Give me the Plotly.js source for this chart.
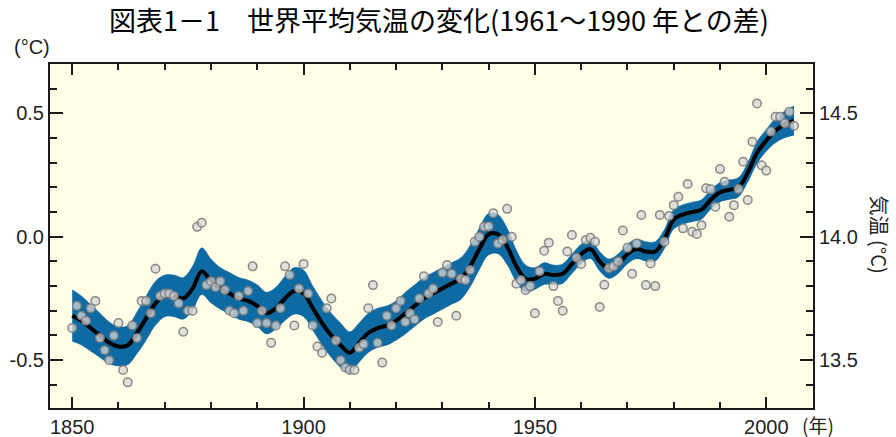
<!DOCTYPE html>
<html>
<head>
<meta charset="utf-8">
<script src="https://cdn.plot.ly/plotly-3.0.1.min.js"></script>
<style>
html,body{margin:0;padding:0;background:#fff;}
#wrap{position:relative;width:896px;height:437px;}
#chart,#frame{position:absolute;left:0;top:0;width:896px;height:437px;}
#frame{pointer-events:none;}
</style>
</head>
<body>
<div id="wrap"><div id="chart"></div><div id="frame"></div></div>
<script>
// Annual global mean temperature anomaly (vs 1961-1990)
const years = [1850,1851,1852,1853,1854,1855,1856,1857,1858,1859,1860,1861,1862,1863,1864,1865,1866,1867,1868,1869,
1870,1871,1872,1873,1874,1875,1876,1877,1878,1879,1880,1881,1882,1883,1884,1885,1886,1887,1888,1889,
1890,1891,1892,1893,1894,1895,1896,1897,1898,1899,1900,1901,1902,1903,1904,1905,1906,1907,1908,1909,
1910,1911,1912,1913,1914,1915,1916,1917,1918,1919,1920,1921,1922,1923,1924,1925,1926,1927,1928,1929,
1930,1931,1932,1933,1934,1935,1936,1937,1938,1939,1940,1941,1942,1943,1944,1945,1946,1947,1948,1949,
1950,1951,1952,1953,1954,1955,1956,1957,1958,1959,1960,1961,1962,1963,1964,1965,1966,1967,1968,1969,
1970,1971,1972,1973,1974,1975,1976,1977,1978,1979,1980,1981,1982,1983,1984,1985,1986,1987,1988,1989,
1990,1991,1992,1993,1994,1995,1996,1997,1998,1999,2000,2001,2002,2003,2004,2005,2006];
const annual = [-0.37,-0.28,-0.32,-0.34,-0.29,-0.26,-0.41,-0.46,-0.50,-0.40,-0.35,-0.54,-0.59,-0.36,-0.41,-0.26,-0.26,-0.31,-0.13,-0.24,
-0.23,-0.23,-0.24,-0.27,-0.385,-0.30,-0.30,0.04,0.057,-0.196,-0.18,-0.205,-0.18,-0.216,-0.30,-0.31,-0.24,-0.30,-0.22,-0.12,
-0.35,-0.30,-0.35,-0.43,-0.36,-0.29,-0.12,-0.155,-0.36,-0.21,-0.11,-0.23,-0.36,-0.445,-0.47,-0.29,-0.25,-0.42,-0.50,-0.53,
-0.54,-0.54,-0.45,-0.435,-0.29,-0.196,-0.43,-0.51,-0.32,-0.36,-0.29,-0.26,-0.345,-0.31,-0.335,-0.25,-0.16,-0.23,-0.21,-0.345,
-0.146,-0.115,-0.15,-0.32,-0.17,-0.175,-0.135,-0.02,0.0,0.04,0.043,0.095,-0.027,-0.013,0.113,0.0,-0.19,-0.175,-0.216,-0.20,
-0.31,-0.14,-0.057,-0.024,-0.20,-0.26,-0.30,-0.06,0.007,-0.085,-0.11,-0.013,-0.004,-0.02,-0.285,-0.195,-0.128,-0.12,-0.10,0.025,
-0.045,-0.15,-0.027,0.088,-0.196,-0.108,-0.20,0.088,-0.02,0.084,0.128,0.162,0.034,0.214,0.02,0.011,0.047,0.196,0.192,0.122,
0.274,0.223,0.081,0.128,0.193,0.304,0.149,0.385,0.54,0.29,0.268,0.426,0.486,0.486,0.46,0.507,0.45];

// Smoothed decadal curve and its uncertainty half-width
const smoothYears = [1850,1852,1854,1856,1858,1860,1862,1864,1866,1868,1870,1872,1874,1876,1878,1880,1882,1884,1886,1888,
1890,1892,1894,1896,1898,1900,1902,1904,1906,1908,1910,1912,1914,1916,1918,1920,1922,1924,1926,1928,
1930,1932,1934,1936,1938,1940,1942,1944,1946,1948,1950,1952,1954,1956,1958,1960,1962,1964,1966,1968,
1970,1972,1974,1976,1978,1980,1982,1984,1986,1988,1990,1992,1994,1996,1998,2000,2002,2004,2006];
const smooth = [-0.32,-0.34,-0.37,-0.40,-0.43,-0.445,-0.44,-0.39,-0.33,-0.27,-0.24,-0.24,-0.25,-0.21,-0.14,-0.18,-0.21,-0.23,-0.25,-0.26,
-0.28,-0.31,-0.29,-0.25,-0.22,-0.23,-0.29,-0.35,-0.40,-0.44,-0.47,-0.43,-0.39,-0.37,-0.36,-0.34,-0.31,-0.28,-0.25,-0.23,
-0.21,-0.19,-0.17,-0.12,-0.05,0.01,0.01,-0.04,-0.12,-0.17,-0.17,-0.15,-0.155,-0.15,-0.11,-0.07,-0.05,-0.10,-0.13,-0.11,
-0.07,-0.05,-0.06,-0.06,-0.01,0.07,0.09,0.10,0.11,0.15,0.18,0.19,0.20,0.26,0.34,0.39,0.43,0.455,0.47];
const halfWidth = [0.105,0.10,0.095,0.09,0.085,0.08,0.08,0.085,0.09,0.09,0.085,0.085,0.085,0.09,0.095,0.09,0.085,0.085,0.085,0.085,
0.085,0.085,0.085,0.09,0.095,0.095,0.09,0.09,0.09,0.09,0.085,0.08,0.08,0.08,0.08,0.08,0.085,0.085,0.085,0.085,
0.085,0.085,0.085,0.085,0.085,0.085,0.08,0.075,0.065,0.055,0.045,0.045,0.04,0.04,0.04,0.04,0.04,0.04,0.04,0.04,
0.04,0.04,0.04,0.04,0.04,0.04,0.04,0.04,0.04,0.04,0.04,0.04,0.04,0.04,0.045,0.045,0.05,0.055,0.06];

const xTickVals = [1850,1900,1950,2000];
const xTickText = ['1850','1900','1950','2000'];
const yTickVals = [-0.5,0,0.5];
const yTickText = ['-0.5','0.0','0.5'];
const y2TickVals = [13.5,14.0,14.5];
const y2TickText = ['13.5','14.0','14.5'];
const y2Offset = 14.0;

const bandLow = smooth.map((v,i)=>v-halfWidth[i]);
const bandHigh = smooth.map((v,i)=>v+halfWidth[i]);

const blue = '#0e6aa3';
const ink = '#1a1a1a';
const xRange = [1845.2,2010.1];
const yRange = [-0.694,0.70];
const margin = {l:50, r:83, t:64, b:29};
const cfg = {displayModeBar:false, staticPlot:true};

// ---- layer 1: data, background, title and side texts ----
const dataTraces = [
  {x: smoothYears, y: bandLow, mode:'lines', line:{width:0, shape:'spline', color:blue}, hoverinfo:'skip', showlegend:false},
  {x: smoothYears, y: bandHigh, mode:'lines', fill:'tonexty', fillcolor:blue, line:{width:0.5, shape:'spline', color:blue}, hoverinfo:'skip', showlegend:false},
  {x: smoothYears, y: smooth, mode:'lines', line:{width:4, shape:'spline', color:'#000'}, showlegend:false},
  {x: years, y: annual, mode:'markers', marker:{size:8.5, color:'rgba(215,215,215,0.75)', line:{color:'rgba(125,125,125,0.9)', width:1.5}}, showlegend:false}
];
const dataLayout = {
  width:896, height:437, margin:margin,
  paper_bgcolor:'#ffffff', plot_bgcolor:'#fffde6', showlegend:false,
  title:{text:'図表1－1　世界平均気温の変化(1961～1990 年との差)', x:0.49, xanchor:'center', y:0.95, yanchor:'middle', yref:'container',
    font:{family:'Noto Sans CJK JP', size:27, color:'#000'}},
  xaxis:{range:xRange, showticklabels:false, ticks:'', showline:false, showgrid:false, zeroline:false},
  yaxis:{range:yRange, showticklabels:false, ticks:'', showline:false, showgrid:false, zeroline:false},
  annotations:[
    {text:'(°C)', xref:'paper', yref:'paper', x:-0.024, y:1.049, showarrow:false, xanchor:'center', yanchor:'middle',
      font:{family:'Liberation Sans', size:20, color:'#222'}},
    {text:'(年)', xref:'paper', yref:'paper', x:1.006, y:-0.048, showarrow:false, xanchor:'center', yanchor:'middle',
      font:{family:'Noto Sans CJK JP', size:19, color:'#222'}},
    {text:'気温 (°C)', xref:'paper', yref:'paper', x:1.087, y:0.503, showarrow:false, xanchor:'center', yanchor:'middle', textangle:90,
      font:{family:'Noto Sans CJK JP', size:20, color:'#222'}}
  ]
};

// ---- layer 2: frame, ticks and tick labels (transparent, drawn on top) ----
const tickFont = {family:'Liberation Sans', size:20, color:'#222'};
const frameTraces = [
  {x:[null], y:[null], mode:'markers', showlegend:false},
  {x:[null], y:[null], yaxis:'y2', mode:'markers', showlegend:false},
  {x:[null], y:[null], xaxis:'x2', mode:'markers', showlegend:false}
];
const frameLayout = {
  width:896, height:437, margin:margin,
  paper_bgcolor:'rgba(0,0,0,0)', plot_bgcolor:'rgba(0,0,0,0)', showlegend:false,
  xaxis:{range:xRange, tickvals:xTickVals, ticktext:xTickText, ticks:'inside', ticklen:11, tickwidth:2, tickcolor:ink,
    showline:true, linewidth:2, linecolor:ink, showgrid:false, zeroline:false, tickfont:tickFont,
    minor:{dtick:10, tick0:1850, ticks:'inside', ticklen:6, tickwidth:2, tickcolor:ink}},
  xaxis2:{overlaying:'x', anchor:'y', side:'top', range:xRange, tickvals:xTickVals, showticklabels:false, ticks:'inside', ticklen:11, tickwidth:2, tickcolor:ink,
    showline:true, linewidth:2, linecolor:ink, showgrid:false, zeroline:false,
    minor:{dtick:10, tick0:1850, ticks:'inside', ticklen:6, tickwidth:2, tickcolor:ink}},
  yaxis:{range:yRange, tickvals:yTickVals, ticktext:yTickText, ticks:'inside', ticklen:13, tickwidth:2, tickcolor:ink,
    showline:true, linewidth:2, linecolor:ink, showgrid:false, zeroline:false, tickfont:tickFont,
    minor:{dtick:0.1, tick0:0, ticks:'inside', ticklen:7, tickwidth:2, tickcolor:ink}},
  yaxis2:{overlaying:'y', side:'right', range:[yRange[0]+y2Offset, yRange[1]+y2Offset], tickvals:y2TickVals, ticktext:y2TickText, ticks:'inside', ticklen:13, tickwidth:2, tickcolor:ink,
    showline:true, linewidth:2, linecolor:ink, showgrid:false, zeroline:false, tickfont:tickFont,
    minor:{dtick:0.1, tick0:0, ticks:'inside', ticklen:7, tickwidth:2, tickcolor:ink}}
};

Plotly.newPlot('chart', dataTraces, dataLayout, cfg);
Plotly.newPlot('frame', frameTraces, frameLayout, cfg);
</script>
</body>
</html>
